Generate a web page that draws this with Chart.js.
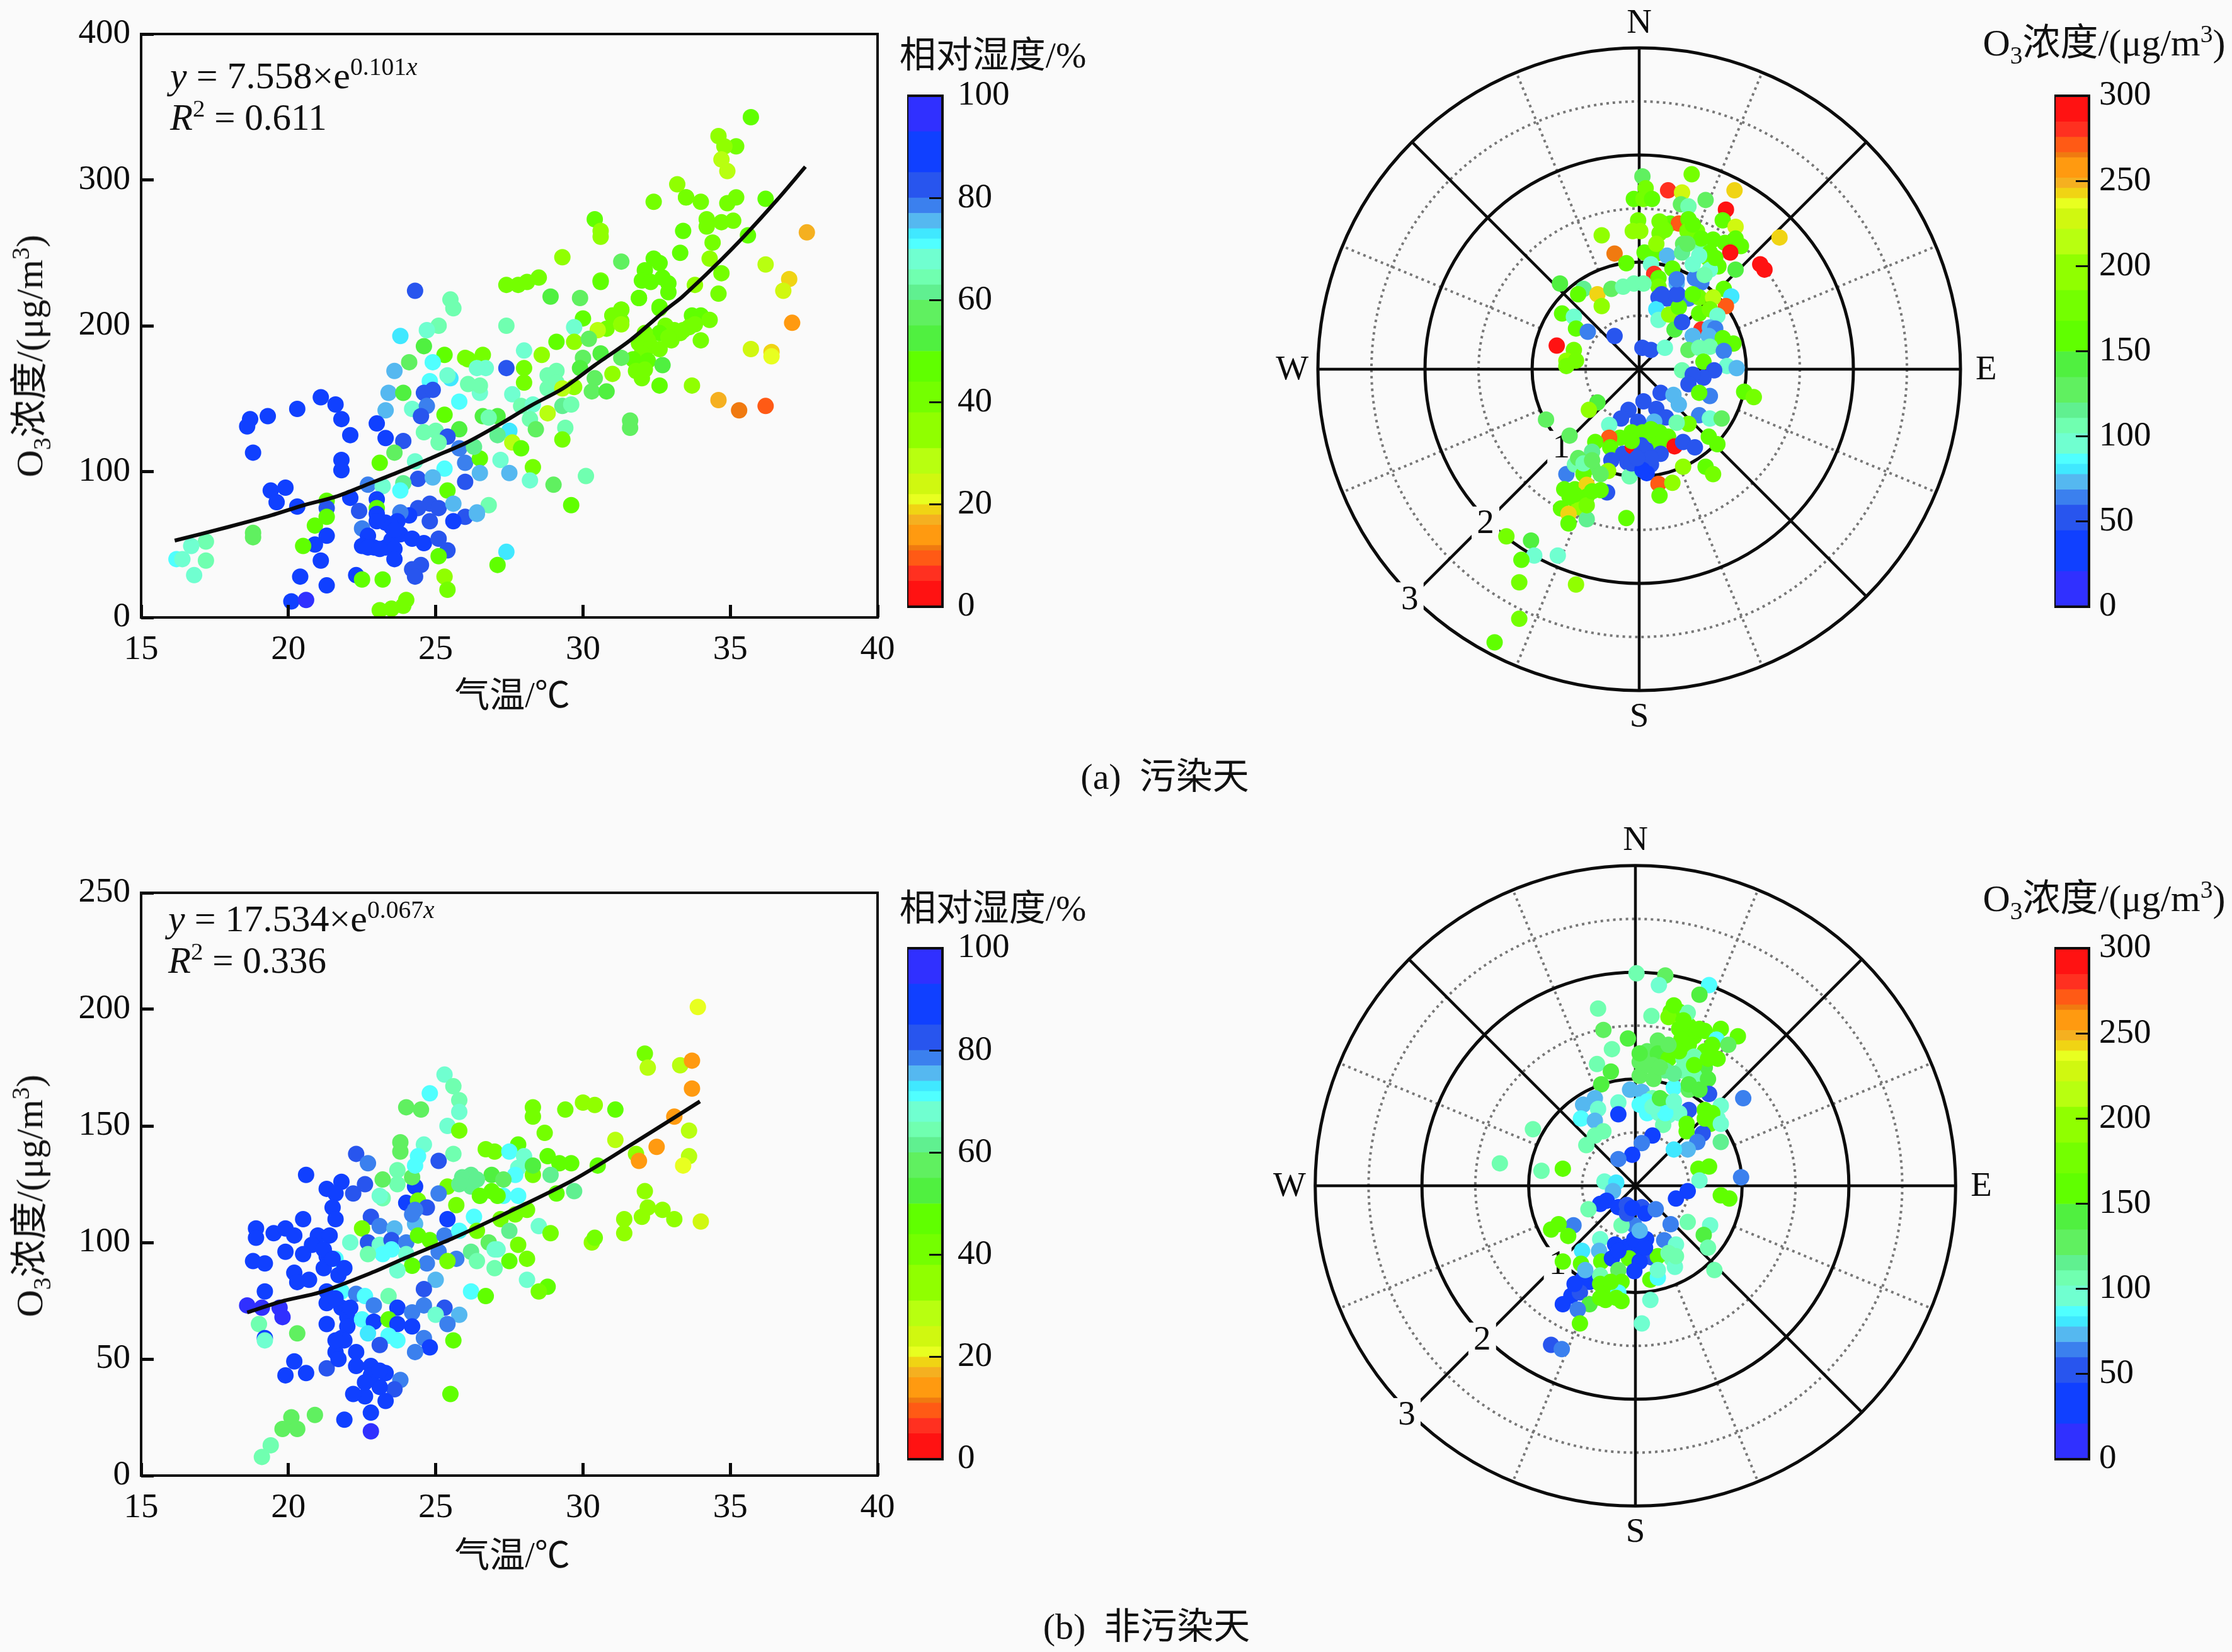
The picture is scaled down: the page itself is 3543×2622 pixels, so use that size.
<!DOCTYPE html>
<html lang="zh">
<head>
<meta charset="utf-8">
<title>气温、风场与O3浓度</title>
<script src="https://cdn.jsdelivr.net/npm/chart.js@4"></script>
<style>
  html, body { margin: 0; padding: 0; background: #fafafa; }
  #page { position: relative; width: 3543px; height: 2622px; overflow: hidden; background: #fafafa; }
  canvas { position: absolute; }
  .t { position: absolute; white-space: pre; color: #111; line-height: 1;
       font-family: "Liberation Serif", "Noto Sans CJK SC", serif; font-size: 55px;
       transform: translate(-50%, -50%); }
  .l { transform: translate(0, -50%); }
  .v { transform: translate(-50%, -50%) rotate(-90deg); }
  sub, sup { font-size: .66em; line-height: 0; }
  i { font-style: italic; }
</style>
</head>
<body>
<div id="page"></div>
<script>
// Colour ramp shared by all panels: band edges in percent of the bar, low end red, high end blue
const rampEdges = [0,5,8,11,12,16,18,20,22,26,31,38,44,50,55,60,63,66,70,72,74,77,80,85,93,100];
const rampColors = ['#ff1212','#ff3020','#ff5a15','#f07a10','#ff9a10','#f5b020','#f0d414','#e8ff20','#d0f810','#b8ff10',
  '#90ff00','#74ff00','#60ff00','#50f040','#60f060','#60f090','#70ffb0','#70ffd0','#50ffff','#40e8ff',
  '#55b8f0','#3b80ee','#2855ee','#1040ff','#3030ff'];

const humidityTicks = [0,20,40,60,80,100];
const ozoneTicks = [0,50,100,150,200,250,300];

// Fitted curves on the temperature panels: temperature, O3
const curveTempA = [16.14,17.95,19.42,20.53,21.64,22.74,23.85,24.96,26.06,27.18,28.25,29.32,30.39,31.6,32.88,33.38,34.45,35.5,36.6,37.55];
const curveO3A   = [52.7,62,70,77,83,91.7,100.6,110.3,120,132.5,145.4,157,172.8,190,212,220,240.4,262,286.5,309];
const curveTempB = [18.6,19.85,21.07,22.92,23.9,25.62,27.3,29.7,31.77,33.97];
const curveO3B   = [70,75,78.6,87.5,93,102,112,127,143,160.5];

// Polluted days: temperature, O3, relative humidity
const hourlyA = [
[24.3,224,82],[25.5,218,65],[25.6,212,65],[25.1,200,66],[24.7,197,68],[23.8,193,74],[24.6,186,55],[25.3,180,50],[26.1,177,42],[24.1,175,56],
[24.9,175,72],[23.6,169,77],[25.5,164,74],[25.4,166,70],[24.8,162,72],[23.4,154,77],[23.9,154,55],[24.6,154,83],[24.9,156,84],[25.8,148,72],
[23.3,142,75],[24.2,143,68],[24.7,145,78],[24.5,138,85],[25.3,139,45],[23,133,87],[21.8,136,88],[21.6,146,86],[21.1,151,90],[20.3,143,92],
[19.3,138,92],[18.7,136,92],[18.6,131,90],[22.1,125,90],[23.3,123,87],[23.9,121,85],[24.6,127,66],[25,128,66],[25.8,129,55],[25.4,124,82],
[25.8,116,78],[25.1,120,66],[18.8,113,90],[21.8,108,90],[21.8,101,90],[23.6,113,60],[23.1,106,45],[24.3,107,68],[25.3,102,72],[26,106,78],
[24.4,95,84],[24.9,96,76],[22.7,91,80],[23.9,92,62],[26,93,82],[23.2,90,68],[19.9,89,88],[19.4,87,90],[19.6,79,92],[20.3,76,88],
[21.3,80,50],[21.3,75,85],[22.1,82,88],[23,81,88],[23,75,50],[23.8,87,72],[25.4,87,45],[22.4,73,84],[21.3,69,50],[20.9,63,48],
[23,71,88],[24.8,78,83],[24.4,75,85],[25.1,75,85],[25.6,78,77],[24.1,70,92],[23.8,72,80],[24.8,66,83],[26,69,85],[25.6,66,88],
[26.4,71,76],[23.3,65,88],[23.7,66,88],[23,66,88],[22.5,61,78],[21.3,56,88],[20.9,50,88],[20.5,49,48],[22.7,56,92],[22.5,49,92],
[22.9,48,92],[23.3,48,92],[23.5,53,92],[23.8,57,88],[23.6,47,92],[23.6,40,86],[24.2,54,88],[24.6,51,86],[25.1,54,84],[25.4,46,83],
[25.1,42,48],[24.5,36,85],[24.2,33,85],[24.3,28,83],[21.1,39,90],[20.4,28,90],[21.3,22,92],[22.3,29,92],[22.5,26,48],[23.2,26,46],
[25.3,28,38],[25.4,19,42],[20.1,11,92],[20.6,12,95],[23.1,5,42],[23.5,6,40],[23.9,8,40],[24,12,40],[18.8,58,56],[18.8,55,56],
[17.2,52,66],[16.7,49,67],[16.2,40,72],[16.4,40,70],[17.2,39,66],[16.8,29,67],
[27.4,228,40],[27.8,228,42],[28.1,230,42],[28.5,233,42],[30.6,231,40],[28.9,220,52],[29.9,219,58],[31.9,219,50],[32.6,212,45],[31.3,211,48],
[31,207,48],[31.3,203,42],[27.4,200,66],[30,205,50],[29.7,199,68],[30.8,198,40],[30.5,197,30],[29.1,189,48],[29.7,189,32],[30.2,191,60],
[28,183,68],[28.6,180,35],[26.6,180,42],[26,178,42],[30,178,58],[30.6,181,55],[27.4,171,84],[26.7,171,68],[26.4,171,68],[28,171,42],
[28,161,42],[29.1,169,64],[28.8,166,66],[28.8,157,66],[29.1,161,66],[29.9,171,55],[30.4,164,58],[31,167,35],[29.7,158,32],[29.3,157,30],
[30.3,155,58],[30.8,155,52],[27.6,153,68],[26.5,154,70],[26.5,159,66],[26.1,160,66],[27.9,145,66],[28.3,146,68],[26.6,138,52],[27.1,138,52],
[26.8,137,66],[28.8,140,30],[29.3,145,62],[29.6,146,64],[28.2,136,66],[27.5,128,73],[27.1,125,62],[28.4,129,60],[29.4,130,64],[29.3,122,42],
[31.6,135,58],[31.6,130,56],[27.6,120,30],[27.9,116,46],[27.2,108,68],[26.5,109,48],[26.3,117,62],[27.5,99,75],[26.5,99,75],[28.3,103,42],
[28.2,94,68],[29,91,60],[30.1,97,66],[29.6,77,46],[26.8,77,65],[26.4,72,76],[27.4,45,74],[27.1,36,46],
[32.4,285,40],[33.5,288,42],[34,285,42],[34.9,284,42],[35.2,288,42],[36.2,287,45],[34.2,273,42],[34.7,271,42],[35.1,272,42],[34.2,268,40],
[33.4,265,48],[30.4,273,50],[30.6,265,38],[30.6,261,32],[34.4,257,42],[35.6,262,48],[37.6,264,18],[29.3,247,36],[31.3,244,56],[33.3,250,48],
[34.3,246,32],[32.4,246,45],[32.6,243,48],[36.2,242,27],[34.7,236,42],[37,232,19],[36.8,224,24],[30.6,230,48],[32.1,238,45],[32,231,45],
[32.3,230,45],[32.7,233,45],[32.9,229,45],[32.9,223,45],[33.8,228,37],[34.6,222,43],[31.9,219,47],[32.6,213,48],[31.3,211,42],[31,207,44],
[31.3,201,36],[33.7,207,45],[34,207,47],[34.3,204,40],[33.6,199,42],[33.1,197,40],[32.8,200,44],[33.3,195,42],[34,190,40],[32.6,195,46],
[32.2,190,44],[33,190,42],[31.9,188,42],[32.3,186,42],[32,181,42],[35.7,184,24],[36.4,182,19],[36.4,179,21],[37.1,202,15],[31.7,177,45],
[32.2,176,50],[32.7,173,52],[31.3,178,60],[31.8,169,42],[32,164,44],[32.6,159,46],[33.7,159,32],[34.6,149,17],[35.3,142,12],[36.2,145,10],
[35.7,343,45],[34.6,330,32],[35.2,323,42],[34.8,323,33],[34.7,314,30],[34.9,306,28],[33.2,297,35],[33.5,288,42],
[22.7,48,92],[23.1,47,92],[23.5,62,88],[23.6,60,88],[32.9,192,42],[33.4,197,42],[32.6,184,44],[32.1,195,44],[33.8,201,44],[32.1,170,44]
];

// Non-polluted days: temperature, O3, relative humidity
const hourlyB = [
[33.9,201,22],[32.1,181,40],[32.2,175,30],[33.3,176,30],[33.7,178,14],[33.7,166,13],[25.3,172,68],[25.6,167,66],[24.8,164,72],[25.8,161,66],
[25.8,156,68],[24,158,60],[24.5,157,56],[28.3,158,42],[28.3,154,42],[29.4,157,42],[30,160,35],[30.4,159,32],[31.1,157,45],[33.1,154,15],
[28.7,147,44],[25.4,150,68],[25.8,148,42],[23.8,143,60],[23.8,139,60],[24.6,142,68],[24.4,137,72],[22.3,138,85],[22.7,134,78],[25.1,135,84],
[25.6,138,66],[26.7,140,42],[27,139,42],[27.8,142,45],[27.5,139,72],[28,137,68],[28.8,137,45],[29.2,134,50],[29.6,134,50],[31.1,144,30],
[33.6,148,30],[32.5,141,14],[31.8,138,35],[31.9,135,15],[33.6,137,28],[33.4,133,22],[30.5,133,50],[20.6,129,88],[21.8,126,90],[21.3,123,90],
[21.6,121,90],[22.2,121,85],[22.6,125,82],[24.3,124,90],[23.7,131,64],[23.7,125,64],[24.2,128,58],[23.2,127,60],[24.3,133,72],[28.3,129,42],
[27.8,132,70],[28.3,133,52],[27.7,129,72],[28.9,129,62],[29.1,121,45],[29.7,122,62],[32.1,122,38],[26.2,129,62],[26.9,129,55],[25.9,128,62],
[25.4,124,40],[26.2,124,62],[26.9,122,48],[27.3,120,72],[27.8,120,72],[25.1,121,80],[23.2,119,66],[23.1,120,68],[24,117,88],[24.4,118,42],
[24.7,115,84],[24.3,114,80],[24.3,108,76],[25.7,116,42],[26.5,120,50],[27.1,120,48],[28.1,114,42],[27.7,112,42],[27.2,110,42],[20.5,110,88],
[21.5,115,90],[21.6,110,90],[25.4,110,90],[26.3,111,72],[22.8,111,82],[23.1,107,80],[23.6,106,76],[18.9,106,90],[18.9,102,90],[19.5,104,92],
[19.9,106,90],[20.2,103,90],[21,103,90],[21.4,103,90],[20.8,99,90],[20.5,95,90],[19.9,96,90],[22.1,100,68],[22.5,106,42],[22.7,100,85],
[23.1,99,70],[23.5,101,82],[24,100,78],[24.4,103,45],[24.8,101,50],[25.3,103,78],[25.8,105,72],[26.4,105,42],[26.8,100,60],[27.5,105,62],
[27.8,99,42],[28.5,107,68],[28.9,104,44],[27.1,97,68],[25.1,96,80],[24,95,70],[23.2,95,72],[22.7,95,65],[21.6,93,72],[18.8,92,90],
[19.2,91,90],[26.2,96,62],[27.5,92,45],[28.1,93,42],[26.4,92,64],[27,89,66],[25.7,93,80],[25.4,92,42],[24.7,91,78],[24.2,90,45],
[23.7,88,68],[21.3,94,90],[21.2,89,92],[20.2,87,88],[20.7,84,88],[20.3,83,88],[21.7,86,88],[21.9,89,86],[25,84,76],[28.1,84,68],
[28.8,81,45],[28.5,79,42],[26.2,79,72],[26.7,77,45],[24.6,80,82],[19.2,79,92],[18.6,73,95],[19.7,72,94],[19.8,68,94],[19.1,72,94],
[21.3,79,90],[21.3,74,90],[21.8,72,88],[21.8,79,72],[22.3,78,80],[22.6,77,72],[22.9,73,78],[23.4,77,66],[23.7,72,88],[24.2,70,80],
[24.6,73,78],[25.3,72,84],[25,69,68],[25.8,69,75],[25.4,65,80],[22,68,90],[22.5,67,72],[22.9,66,86],[23.4,67,45],[23.7,65,88],
[24.2,64,86],[21.3,65,92],[22,64,88],[19,65,64],[19.2,59,88],[19.2,58,68],[20.3,61,58],[22.7,61,74],[23.4,60,72],[23.7,58,72],
[24.6,59,80],[25.6,58,46],[24.8,55,88],[24.3,53,78],[23.1,56,84],[21.8,59,86],[21.6,53,86],[22.3,53,88],[21.3,46,82],[20.2,49,90],
[19.9,43,90],[20.6,44,88],[22.3,47,90],[22.8,47,90],[23.3,44,90],[22.8,42,90],[23.8,41,78],[23.6,37,82],[23.1,38,90],[22.6,34,90],
[22.2,35,90],[23.3,32,92],[22.8,27,92],[21.9,24,92],[22.8,19,94],[25.5,35,45],[20.9,26,56],[20.1,25,58],[19.8,20,60],[20.3,20,58],
[19.4,13,66],[19.1,8,64],[30.3,100,38],[30.4,102,40],[31.4,110,35],[31.4,104,33],[32,111,36],[32.2,115,36],[32.7,114,34],[33.1,110,32],[34,109,26],
[21.9,58,88],[21.6,58,88],[22.8,43,90],[23.1,45,90],[22.6,40,90],[21.7,50,88],[22.1,72,88],[21.6,76,90],[21.2,97,90],[21.5,93,90],
[27,97,68],[27.3,127,60],[26.4,127,62],[25.8,125,62],[24.2,112,78],[23.5,97,72]
];

// Polluted days, wind field: eastward wind, northward wind (m/s), O3
const windA = [
[.03,1.8,130],[.49,1.82,170],[.27,1.67,280],[.89,1.67,245],[.81,1.49,295],[.4,1.65,225],[.62,1.58,130],[.06,1.69,170],[-.05,1.59,165],[.04,1.59,170],
[.12,1.59,165],[.39,1.54,120],[.46,1.52,105],[.78,1.39,160],[.9,1.33,225],[-.01,1.39,170],[.01,1.29,200],[-.06,1.29,205],[-.35,1.25,195],[.22,1.36,165],
[.29,1.36,165],[.19,1.27,170],[.37,1.36,270],[.46,1.4,165],[.45,1.29,170],[.54,1.29,170],[.69,1.21,165],[.8,1.18,160],[.9,1.22,165],[.95,1.15,165],
[.85,1.09,285],[1.31,1.23,240],[1.13,.98,285],[1.17,.93,285],[-.23,1.08,265],[-.12,.99,165],[.05,1.09,160],[.16,1.08,165],[.26,1.06,75],[.41,1.17,120],
[.56,1.17,105],[.4,1.09,115],[.64,1.04,170],[.74,.96,160],[.9,.93,135],[.11,.98,90],[.31,.94,155],[.14,.89,280],[.18,.85,165],[.18,.77,170],
[.35,.8,70],[.52,.85,60],[.58,.81,65],[.66,.93,100],[.5,.98,95],[.79,.75,165],[.86,.68,80],[.81,.59,270],[-.74,.8,140],[-.52,.75,115],
[-.57,.7,160],[-.39,.7,245],[-.35,.59,195],[-.26,.75,130],[-.15,.77,110],[-.05,.8,110],[.04,.8,110],[.18,.67,50],[.26,.66,50],[.36,.7,55],
[.46,.66,60],[.56,.67,170],[.69,.67,210],[.16,.56,80],[.18,.46,90],[.28,.51,195],[.37,.58,160],[.56,.52,165],[.66,.56,170],[.73,.5,90],
[-.72,.52,150],[-.61,.49,100],[-.59,.38,160],[-.48,.35,60],[-.23,.31,45],[-.77,.22,290],[-.61,.18,185],[-.68,.08,205],[-.59,.08,170],[-.68,.03,170],
[.33,.37,145],[.4,.44,55],[.58,.37,280],[.66,.39,75],[.71,.38,65],[.5,.31,70],[.65,.31,75],[.78,.29,160],[.88,.24,150],[.03,.2,45],
[.11,.18,50],[.24,.2,100],[.46,.18,120],[.56,.2,110],[.66,.21,105],[.79,.17,60],[.6,.07,165],[.82,.03,100],[.91,.01,70],[.4,-.01,105],
[.7,-.01,50],[.6,-.08,50],[.5,-.05,45],[.46,-.14,45],[.66,-.25,65],[.56,-.22,150],[.98,-.21,165],[1.07,-.26,170],[.2,-.22,45],[.32,-.24,70],
[.37,-.33,70],[.04,-.3,45],[.16,-.37,45],[.25,-.45,50],[-.1,-.38,45],[-.17,-.46,45],[-.39,-.31,145],[-.47,-.38,205],[-.87,-.47,130],[-.65,-.62,130],
[.56,-.43,65],[.66,-.46,100],[.77,-.46,125],[.46,-.51,180],[.35,-.5,105],[.14,-.49,75],[-.01,-.49,55],[-.28,-.52,100],[.03,-.59,160],[-.07,-.59,165],
[.19,-.59,155],[.27,-.63,160],[-.18,-.64,150],[-.28,-.64,270],[-.41,-.68,150],[-.27,-.73,155],[-.15,-.79,50],[-.06,-.72,285],[.02,-.71,45],[.18,-.7,150],
[.33,-.72,285],[.41,-.68,45],[.52,-.73,45],[.2,-.79,45],[.65,-.63,165],[.73,-.7,160],[-.26,-.85,45],[-.11,-.87,45],[.01,-.87,40],[.11,-.89,45],
[.07,-.97,40],[.41,-.91,190],[.62,-.91,165],[.69,-.98,170],[.18,-1.07,275],[.31,-1.06,205],[.19,-1.18,160],[-.09,-1,110],[-.29,-.95,200],[-.68,-.98,60],
[-.44,-.77,115],[-.6,-.89,105],[-.44,-.91,120],[-.52,-.98,150],[-.36,-.98,130],[-.3,-1.15,50],[-.36,-1.13,165],[-.7,-1.12,165],[-.6,-1.12,160],[-.49,-1.08,240],
[-.49,-1.19,150],[-.73,-1.3,150],[-.6,-1.22,160],[-.56,-1.29,190],[-.66,-1.35,240],[-.49,-1.4,115],[-.66,-1.44,155],[-.12,-1.39,165],[-1.24,-1.56,170],
[-1.01,-1.6,140],[-.98,-1.74,90],[-1.1,-1.78,165],[-.76,-1.74,100],[-1.12,-1.99,170],[-.59,-2.01,190],[-1.12,-2.33,170],[-1.35,-2.55,165],
[.19,1.38,170],[.24,1.3,170],[.5,1.35,165],[.58,1.22,150],[.45,1.17,125],[.66,1.09,165],[.71,1.04,160],[.56,1.06,100],[.61,.88,110],[.5,.7,165],
[.16,1.17,205],[.35,.7,50],[.21,.7,50],[.35,.84,60],[.01,-.8,45],[-.07,-.88,50],[.06,-.75,45],[.11,-.83,45],[.03,-.94,40],[-.02,-.83,45],
[.14,-.62,155],[.11,-.56,150],[-.07,-.67,160],[-.57,-.83,120],[-.52,-.88,110],[-.44,-.85,125],[-.6,-1.17,165],[-.49,-1.27,170],[-.65,-1.19,165],[-.44,-1.14,160]
];

// Non-polluted days, wind field: eastward wind, northward wind (m/s), O3
const windB = [
[.01,1.99,110],[.28,1.97,130],[.22,1.88,95],[.69,1.88,85],[.6,1.79,135],[-.35,1.66,110],[.15,1.59,105],[.33,1.63,165],[-.3,1.46,125],[-.07,1.38,135],
[-.22,1.28,110],[-.36,1.14,105],[-.23,1.07,145],[-.32,.95,145],[.41,1.63,165],[.31,1.58,170],[.41,1.47,165],[.5,1.5,165],[.55,1.4,160],[.65,1.45,155],
[.8,1.47,160],[.96,1.4,165],[.76,1.37,85],[.87,1.32,130],[.77,1.19,160],[.65,1.26,150],[.5,1.32,155],[.43,1.37,150],[.49,1.62,110],[.21,1.36,125],
[.11,1.26,130],[.21,1.24,140],[.31,1.19,150],[.04,1.16,125],[.16,1.13,120],[.45,1.19,105],[.55,1.21,110],[.65,1.11,140],[.43,1.08,110],[.55,1.03,105],
[.68,1,145],[.28,1.08,115],[.04,1.03,130],[.17,1,125],[.36,.92,85],[.5,.9,130],[-.05,.9,75],[.06,.88,70],[.69,.86,50],[1.01,.82,60],
[.16,.82,110],[.27,.79,130],[.04,.76,85],[.11,.68,85],[.5,.71,50],[.46,.66,45],[.8,.75,95],[.65,.71,150],[.77,.63,90],[.31,.66,90],
[.22,.68,95],[.41,.68,100],[.26,.57,110],[.48,.51,160],[.7,.58,155],[.63,.49,55],[.8,.41,115],[.58,.41,60],[.49,.34,75],[.36,.34,80],
[-.49,.76,75],[-.38,.82,75],[-.35,.72,100],[-.51,.63,85],[-.38,.61,70],[-.16,.78,90],[-.16,.67,40],[-.3,.51,110],[-.38,.47,110],[-.46,.38,110],
[-.96,.53,105],[.16,.47,35],[.06,.4,60],[-.03,.29,35],[-.16,.25,65],[-1.27,.21,105],[-.88,.14,105],[-.68,.16,165],[.59,.16,165],[.69,.18,160],
[.6,.05,90],[.99,.08,65],[.49,-.05,35],[.38,-.12,35],[.8,-.09,150],[.88,-.12,150],[-.29,.04,90],[-.18,.03,80],[-.21,-.05,70],[-.27,-.14,35],
[-.33,-.17,40],[-.44,-.22,105],[-.16,-.2,40],[-.08,-.18,45],[.06,-.2,45],[.09,-.26,40],[.19,-.22,60],[-.01,-.37,65],[-.13,-.37,110],[.49,-.34,110],
[.33,-.36,65],[-.58,-.37,60],[-.72,-.36,165],[-.79,-.41,165],[-.63,-.47,165],[.7,-.37,100],[.64,-.46,145],[.68,-.58,110],[.74,-.79,105],[-.33,-.5,100],
[-.19,-.55,35],[-.08,-.57,35],[.1,-.5,35],[.04,-.58,35],[.27,-.51,60],[.38,-.55,100],[-.5,-.61,80],[-.34,-.61,70],[-.68,-.71,160],[-.51,-.73,165],
[-.32,-.71,160],[-.06,-.68,165],[.15,-.67,45],[.34,-.68,105],[.04,-.71,35],[.21,-.66,150],[-.22,-.68,40],[.37,-.76,100],[-.01,-.8,40],[.14,-.88,150],
[.21,-.86,85],[-.49,-.87,40],[-.43,-.9,40],[-.16,-.79,130],[-.33,-.84,110],[-.13,-.9,150],[-.25,-.97,150],[-.16,-1,85],[-.6,-1.03,40],[-.68,-1.11,40],
[-.52,-1,50],[-.43,-1.11,145],[-.28,-1.07,160],[-.13,-1.08,155],[-.54,-1.16,65],[.14,-1.07,95],[-.52,-1.29,165],[.06,-1.29,100],[-.79,-1.49,50],[-.69,-1.53,60],
[.36,1.69,165],[.45,1.55,160],[.6,1.47,160],[.72,1.32,150],[.41,1.26,165],[.55,1.13,155],[.68,1.19,150],[.31,1.32,130],[.11,1.13,130],[.23,1.11,120],
[.04,1.24,135],[.36,1.05,115],[.5,.95,140],[.6,.9,145],[.11,.79,85],[.28,.68,85],[.16,.74,100],[.23,.82,140],[.36,.79,90],[.48,.58,150],
[.72,.68,155],[.65,.63,150],[.8,.58,100],[-.01,-.5,40],[.09,-.58,35],[-.16,-.61,40],[.04,-.42,70],[-.08,-.26,45],[-.03,-.21,40],[-.33,-.92,150],
[-.18,-1.05,150],[-.23,-.9,155],[-.33,-1.05,165],[-.57,-.92,40],[-.47,-.79,70],[.31,-.63,105],[.38,-.66,105],[.21,-.79,90]
];

// Wind-rose furniture
const solidRings = [1,2,3];
const dottedRings = [0.5,1.5,2.5];
const solidSpokes = [0,45,90,135,180,225,270,315];
const dottedSpokes = [22.5,67.5,112.5,157.5,202.5,247.5,292.5,337.5];
const compassLabels = [['N',0],['E',90],['S',180],['W',270]];

const INK = '#0c0c0c';
const BACK = '#fafafa';
const SERIF = '"Liberation Serif", serif';
const page = document.getElementById('page');
const colorFor = pct => {
  for (let i = 0; i < rampColors.length; i++) if (pct <= rampEdges[i + 1]) return rampColors[i];
  return rampColors[rampColors.length - 1];
};

function addCanvas(left, top, width, height) {
  const c = document.createElement('canvas');
  c.width = width; c.height = height;
  c.style.left = left + 'px'; c.style.top = top + 'px';
  c.style.width = width + 'px'; c.style.height = height + 'px';
  page.appendChild(c);
  return c;
}
function addText(html, x, y, cls, size) {
  const d = document.createElement('div');
  d.className = 't' + (cls ? ' ' + cls : '');
  d.innerHTML = html;
  d.style.left = x + 'px'; d.style.top = y + 'px';
  if (size) d.style.fontSize = size + 'px';
  page.appendChild(d);
}

// Black rectangle round the plot area, drawn above everything else
const framePlugin = {
  id: 'frame',
  afterDraw(chart, _args, opts) {
    const { ctx, chartArea: a } = chart;
    ctx.save();
    ctx.strokeStyle = INK;
    ctx.lineWidth = opts.width || 4;
    ctx.strokeRect(a.left, a.top, a.right - a.left, a.bottom - a.top);
    ctx.restore();
  }
};
const noScalePadding = s => { s.paddingLeft = s.paddingRight = s.paddingTop = s.paddingBottom = 0; };

// Temperature vs O3 panel with a humidity-coloured cloud and a fitted curve
function scatterPanel(top, plotHeight, yMax, yStep, dots, curveX, curveY) {
  const width = 1440, height = plotHeight + 54 + 160;
  const canvas = addCanvas(0, top - 54, width, height);
  new Chart(canvas, {
    type: 'scatter',
    data: { datasets: [
      { data: curveX.map((x, i) => ({ x, y: curveY[i] })), showLine: true, tension: 0.3, borderColor: '#0a0a0a',
        borderWidth: 6, pointRadius: 0, order: 0 },
      { data: dots.map(d => ({ x: d[0], y: d[1] })), backgroundColor: dots.map(d => colorFor(d[2])),
        borderWidth: 0, pointRadius: 13, pointHoverRadius: 13, order: 1 }
    ] },
    options: {
      responsive: false, animation: false, events: [],
      layout: { autoPadding: false, padding: { top: 54, right: 47, left: 0, bottom: 0 } },
      plugins: { legend: { display: false }, tooltip: { enabled: false } },
      scales: {
        x: { type: 'linear', min: 15, max: 40, border: { display: false },
          grid: { drawOnChartArea: false, tickLength: -20, tickWidth: 5, tickColor: INK, z: 1 },
          ticks: { stepSize: 5, padding: 39, maxRotation: 0, autoSkip: false, color: INK, font: { family: SERIF, size: 55 } },
          afterFit: s => { noScalePadding(s); s.height = 160; } },
        y: { type: 'linear', min: 0, max: yMax, border: { display: false },
          grid: { drawOnChartArea: false, tickLength: -20, tickWidth: 5, tickColor: INK, z: 1 },
          ticks: { stepSize: yStep, padding: 37, autoSkip: false, color: INK, font: { family: SERIF, size: 55 } },
          afterFit: s => { noScalePadding(s); s.width = 224; } }
      }
    },
    plugins: [framePlugin]
  });
}

// Vertical colour bar built from floating bars, one per ramp band
function colorBar(left, barWidth, top, barHeight, yMax, ticks, inverted, labelGap) {
  const scale = yMax / 100;
  const bands = rampColors.map((c, i) => {
    const lo = inverted ? 100 - rampEdges[i + 1] : rampEdges[i];
    const hi = inverted ? 100 - rampEdges[i] : rampEdges[i + 1];
    return { data: [[lo * scale, hi * scale]], backgroundColor: c, borderWidth: 0 };
  });
  const canvas = addCanvas(left, top - 40, barWidth + 140, barHeight + 80);
  new Chart(canvas, {
    type: 'bar',
    data: { labels: ['ramp'], datasets: bands },
    options: {
      responsive: false, animation: false, events: [],
      layout: { autoPadding: false, padding: { top: 40, bottom: 40, left: 0, right: 0 } },
      datasets: { bar: { grouped: false, barPercentage: 1, categoryPercentage: 1 } },
      plugins: { legend: { display: false }, tooltip: { enabled: false } },
      scales: {
        x: { display: false },
        y: { position: 'right', min: 0, max: yMax, border: { display: false },
          grid: { drawOnChartArea: false, tickLength: -21, tickWidth: 3, tickColor: INK, z: 1 },
          afterBuildTicks: s => { s.ticks = ticks.map(value => ({ value })); },
          ticks: { padding: labelGap + 21, autoSkip: false, color: INK, font: { family: SERIF, size: 55 } },
          afterFit: s => { noScalePadding(s); s.width = 140; } }
      }
    },
    plugins: [framePlugin]
  });
}

// Wind rose: a linear x/y pair in m/s with rings, spokes and labels drawn from those scales
function windRose(cx, cy, unit, wind) {
  const extent = 3.5, half = Math.round(extent * unit);
  const canvas = addCanvas(cx - half, cy - half, 2 * half, 2 * half);
  const gridPlugin = {
    id: 'roseGrid',
    beforeDatasetsDraw(chart) {
      const { ctx, scales: { x, y } } = chart;
      const px = v => x.getPixelForValue(v), py = v => y.getPixelForValue(v);
      const rOf = r => px(r) - px(0);
      const tip = (r, deg) => [px(r * Math.sin(deg * Math.PI / 180)), py(r * Math.cos(deg * Math.PI / 180))];
      ctx.save();
      ctx.strokeStyle = '#777';
      ctx.lineWidth = 4;
      ctx.setLineDash([4, 6]);
      dottedRings.forEach(r => { ctx.beginPath(); ctx.arc(px(0), py(0), rOf(r), 0, 2 * Math.PI); ctx.stroke(); });
      dottedSpokes.forEach(d => {
        const [a, b] = tip(1, d), [e, f] = tip(3, d);
        ctx.beginPath(); ctx.moveTo(a, b); ctx.lineTo(e, f); ctx.stroke();
      });
      ctx.setLineDash([]);
      ctx.strokeStyle = INK;
      ctx.lineWidth = 5;
      solidRings.forEach(r => { ctx.beginPath(); ctx.arc(px(0), py(0), rOf(r), 0, 2 * Math.PI); ctx.stroke(); });
      ctx.lineWidth = 4.5;
      solidSpokes.forEach(d => {
        const [e, f] = tip(3, d);
        ctx.beginPath(); ctx.moveTo(px(0), py(0)); ctx.lineTo(e, f); ctx.stroke();
      });
      ctx.font = '55px ' + SERIF;
      ctx.textAlign = 'center';
      ctx.textBaseline = 'middle';
      solidRings.forEach(r => {
        const [a, b] = tip(r + 0.03, 225);
        ctx.fillStyle = BACK;
        ctx.fillRect(a - 22, b - 26, 44, 52);
        ctx.fillStyle = INK;
        ctx.fillText(String(r), a, b + 2);
      });
      compassLabels.forEach(([name, d]) => {
        const [a, b] = tip(3.24, d);
        ctx.fillStyle = INK;
        ctx.fillText(name, a, b + 2);
      });
      ctx.restore();
    }
  };
  new Chart(canvas, {
    type: 'scatter',
    data: { datasets: [{ data: wind.map(d => ({ x: d[0], y: d[1] })),
      backgroundColor: wind.map(d => colorFor(100 - d[2] / 3)),
      borderWidth: 0, pointRadius: 13, pointHoverRadius: 13 }] },
    options: {
      responsive: false, animation: false, events: [],
      layout: { autoPadding: false, padding: 0 },
      plugins: { legend: { display: false }, tooltip: { enabled: false } },
      scales: {
        x: { type: 'linear', display: false, min: -extent, max: extent },
        y: { type: 'linear', display: false, min: -extent, max: extent }
      }
    },
    plugins: [gridPlugin]
  });
}

scatterPanel(54, 926, 400, 100, hourlyA, curveTempA, curveO3A);
scatterPanel(1417, 925, 250, 50, hourlyB, curveTempB, curveO3B);
colorBar(1440, 56, 152, 811, 100, humidityTicks, false, 24);
colorBar(1440, 56, 1505, 811, 100, humidityTicks, false, 24);
colorBar(3261, 55, 152, 811, 300, ozoneTicks, true, 16);
colorBar(3261, 55, 1505, 811, 300, ozoneTicks, true, 16);
windRose(2602, 586, 170, windA);
windRose(2596, 1882, 169.5, windB);

const ozoneTitle = 'O<sub>3</sub>浓度/(μg/m<sup>3</sup>)';
addText(ozoneTitle, 47, 565, 'v', 60);
addText(ozoneTitle, 47, 1898, 'v', 60);
addText('气温/℃', 813, 1103, '', 56);
addText('气温/℃', 813, 2468, '', 56);
addText('相对湿度/%', 1576, 88, '', 58);
addText('相对湿度/%', 1576, 1442, '', 58);
addText(ozoneTitle, 3340, 68, '', 60);
addText(ozoneTitle, 3340, 1426, '', 60);
addText('<i>y</i> = 7.558×e<sup><span>0.101</span><i>x</i></sup>', 270, 120, 'l', 60);
addText('<i>R</i><sup>2</sup> = 0.611', 270, 186, 'l', 59);
addText('<i>y</i> = 17.534×e<sup><span>0.067</span><i>x</i></sup>', 267, 1458, 'l', 60);
addText('<i>R</i><sup>2</sup> = 0.336', 267, 1524, 'l', 59);
addText('(a)  污染天', 1849, 1233, '', 58);
addText('(b)  非污染天', 1820, 2582, '', 58);
</script>
</body>
</html>
